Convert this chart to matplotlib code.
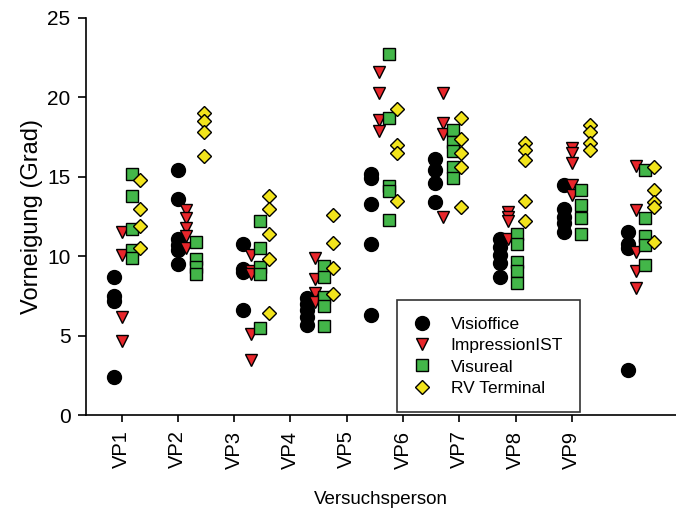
import numpy as np
import matplotlib
matplotlib.use("Agg")
import matplotlib.pyplot as plt

plt.rcParams['font.family'] = ['Liberation Sans', 'DejaVu Sans']

# Versuchspersonen
subjects = ['VP1', 'VP2', 'VP3', 'VP4', 'VP5', 'VP6', 'VP7', 'VP8', 'VP9']

# Vorneigung (Grad) per subject and measuring system
visioffice = [
    [8.7, 7.5, 7.2, 2.4],
    [15.4, 13.6, 11.1, 10.7, 10.4, 9.5],
    [10.8, 9.2, 9.0, 6.6],
    [7.35, 7.0, 6.6, 6.2, 5.7],
    [15.2, 14.9, 13.3, 10.8, 6.3],
    [16.1, 15.4, 14.6, 13.4],
    [11.1, 10.6, 10.1, 9.55, 8.7],
    [14.5, 13.0, 12.5, 12.1, 11.5],
    [11.5, 10.8, 10.5, 2.85],
]
impression = [
    [11.5, 10.1, 6.2, 4.7],
    [12.9, 12.4, 11.8, 11.3, 10.5],
    [10.1, 9.1, 8.9, 5.1, 3.5],
    [9.9, 8.55, 7.7, 7.1],
    [21.6, 20.3, 18.6, 17.9],
    [20.3, 18.4, 17.7, 12.5],
    [12.8, 12.5, 12.2, 11.1],
    [16.8, 16.5, 15.9, 14.5, 13.85],
    [15.7, 12.9, 10.3, 9.1, 8.0],
]
visureal = [
    [15.2, 13.8, 11.7, 10.4, 9.9],
    [10.9, 9.8, 9.3, 8.9],
    [12.2, 10.5, 9.3, 8.9, 5.5],
    [9.4, 8.7, 7.45, 6.9, 5.6],
    [22.7, 18.7, 14.4, 14.1, 12.3],
    [17.95, 17.2, 16.6, 15.6, 14.9],
    [11.4, 10.8, 9.65, 9.1, 8.3],
    [14.2, 13.2, 12.4, 11.4],
    [15.4, 12.4, 11.3, 10.7, 9.45],
]
rv_terminal = [
    [14.8, 13.0, 11.9, 10.5],
    [19.0, 18.5, 17.85, 16.3],
    [13.8, 12.95, 11.4, 9.8, 6.45],
    [12.6, 10.85, 9.25, 7.65],
    [19.25, 17.0, 16.5, 13.45],
    [18.7, 17.4, 16.5, 15.65, 13.1],
    [17.1, 16.7, 16.05, 13.45, 12.2],
    [18.25, 17.85, 17.1, 16.7],
    [15.65, 14.2, 13.4, 13.1, 10.9],
]

series = [
    ('Visioffice', visioffice, 'o', 'black', 10.0, 0.0),
    ('ImpressionIST', impression, 'v', '#e8262b', 8.5, 0.142),
    ('Visureal', visureal, 's', '#43b649', 8.0, 0.31),
    ('RV Terminal', rv_terminal, 'D', '#f2e41c', 7.5, 0.46),
]

fig = plt.figure(figsize=(6.76, 5.12), dpi=100)
ax = fig.add_axes([0.127, 0.189, 0.873, 0.776])

# groups are spaced a bit wider than the tick marks in the original
group_start = 0.869
group_step = 1.141

for name, values, marker, color, ms, off in series:
    xs, ys = [], []
    for i, vals in enumerate(values):
        for v in vals:
            xs.append(group_start + group_step * i + off)
            ys.append(v)
    ax.plot(xs, ys, linestyle='none', marker=marker, markersize=ms,
            markerfacecolor=color, markeredgecolor='black',
            markeredgewidth=1.0, label=name)

ax.set_xlim(0.366, 10.85)
ax.set_ylim(0, 25)
ax.set_xticks(np.arange(1, len(subjects) + 1))
ax.set_xticklabels(subjects, rotation=90, fontsize=14.5)
ax.set_yticks([0, 5, 10, 15, 20, 25])
ax.tick_params(axis='y', labelsize=15, length=6, width=1.2, direction='out', pad=5)
ax.tick_params(axis='x', length=5, width=1.2, direction='out', pad=6)

ax.spines['top'].set_visible(False)
ax.spines['right'].set_visible(False)
ax.spines['left'].set_linewidth(1.2)
ax.spines['bottom'].set_linewidth(1.2)

ax.set_ylabel('Vorneigung (Grad)', fontsize=17, labelpad=3)
ax.set_xlabel('Versuchsperson', fontsize=13.5, labelpad=16)

leg = ax.legend(loc='lower left', bbox_to_anchor=(0.527, 0.007, 0.31, 0.29),
                mode='expand', frameon=True, fancybox=False, fontsize=12.5,
                handlelength=1.0, handletextpad=1.15, labelspacing=0.36,
                borderpad=0.95, edgecolor='black', borderaxespad=0)
leg.get_frame().set_linewidth(1.2)

fig.savefig('out.png', dpi=100)
